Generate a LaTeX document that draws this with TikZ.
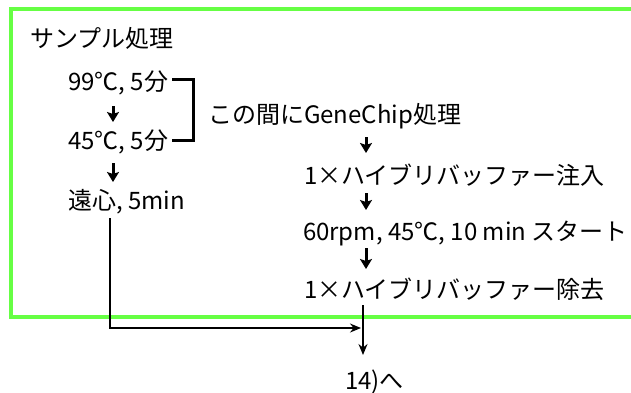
\documentclass[tikz,border=0pt]{standalone}
\usepackage{fontspec}
\setmainfont{Noto Sans CJK JP}
\usetikzlibrary{arrows.meta}
\definecolor{boxgreen}{RGB}{102,255,68}
\tikzset{
  lbl/.style={inner sep=0pt, outer sep=0pt, anchor=west, text height=21pt, text depth=3pt,
    font=\fontsize{24pt}{28pt}\selectfont},
  arr/.style={line width=3pt, -{Stealth[length=10pt,width=12pt,inset=2pt]}},
  thinarr/.style={line width=1.6pt, -{Stealth[length=11pt,width=9pt]}},
  brk/.style={line width=3pt},
  frame/.style={draw=boxgreen, line width=4pt}
}
\begin{document}
\begin{tikzpicture}[x=1pt,y=-1pt]
\useasboundingbox[fill=white] (0,0) rectangle (631,392);
\draw[frame] (650,8.5) -- (10.5,8.5) -- (10.5,317) -- (650,317);
% column references
\coordinate (lx) at (113,0);
\coordinate (rx) at (366,0);
\coordinate (vx) at (363,0);
\coordinate (cx) at (110,0);
\coordinate (bx) at (193,0);
\coordinate (j) at (361,328);
% texts
\node[lbl] (title) at (30,38) {サンプル処理};
\node[lbl] (t99) at (68,81) {99℃, 5分};
\node[lbl] (t45) at (68,140) {45℃, 5分};
\node[lbl] (tcen) at (68,200) {遠心, 5min};
\node[lbl] (gene) at (208,114) {この間にGeneChip処理};
\node[lbl] (inj) at (304,175) {1×ハイブリバッファー注入};
\node[lbl] (rpm) at (303,231) {60rpm, 45℃, 10 min スタート};
\node[lbl] (rem) at (304,289) {1×ハイブリバッファー除去};
\node[lbl] (to14) at (345,380) {14)へ};
% bracket
\draw[brk] ([xshift=4pt,yshift=2pt]t99.east) -| (bx |- t99.east) -- (bx |- t45.east) -- ([xshift=4pt]t45.east);
% left arrows
\draw[arr, shorten <=13pt, shorten >=6pt] (t99.south -| lx) -- (t45.north -| lx);
\draw[arr, shorten <=11pt, shorten >=6pt] (t45.south -| lx) -- (tcen.north -| lx);
% right arrows
\draw[arr, shorten <=11pt, shorten >=10pt] (gene.south -| rx) -- (inj.north -| rx);
\draw[arr, shorten <=6pt, shorten >=9pt] (inj.south -| rx) -- (rpm.north -| rx);
\draw[arr, shorten <=5pt, shorten >=8pt] (rpm.south -| rx) -- (rem.north -| rx);
% bottom connectors
\draw[thinarr, shorten <=4pt, shorten >=13pt] (rem.south -| vx) -- (to14.north -| vx);
\draw[thinarr, shorten <=6pt] (tcen.south -| cx) |- (j);
\end{tikzpicture}
\end{document}
